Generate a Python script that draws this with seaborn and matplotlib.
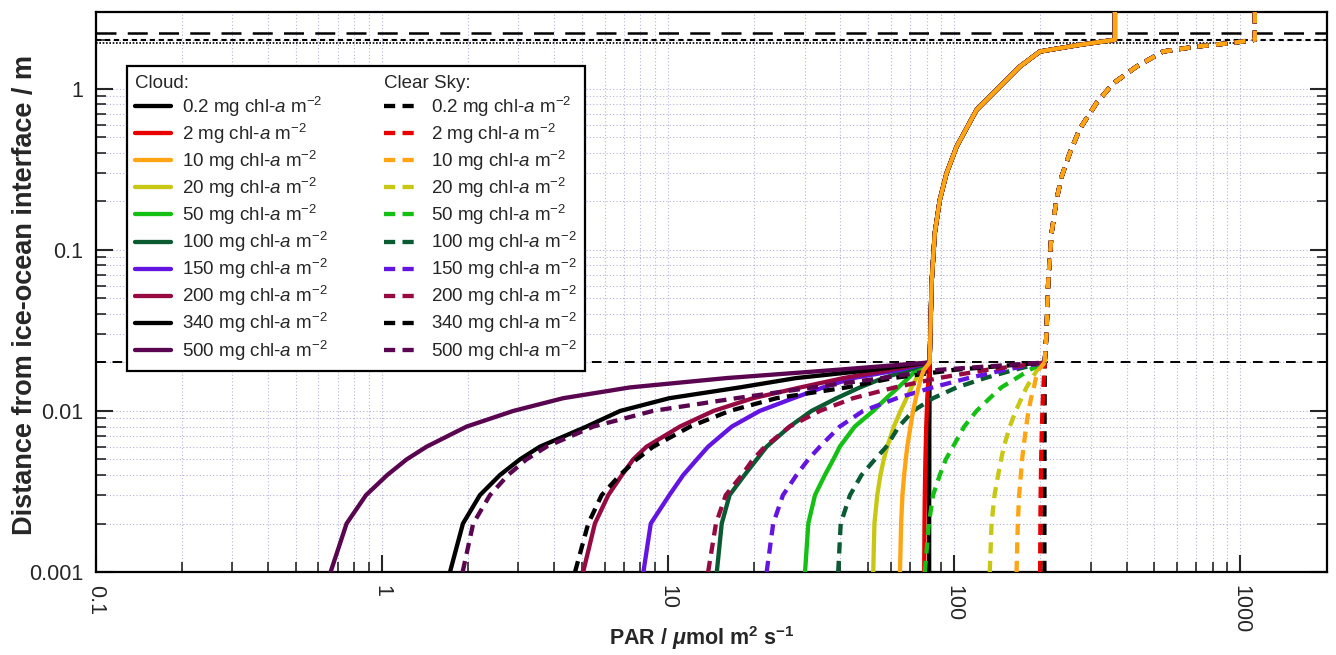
import numpy as np
import pandas as pd
import matplotlib
matplotlib.use('Agg')
import matplotlib.pyplot as plt
import seaborn as sns
from matplotlib.lines import Line2D
from matplotlib.ticker import NullFormatter, LogLocator

sns.set_style('ticks')
plt.rcParams['font.family'] = ['Liberation Sans', 'DejaVu Sans']
plt.rcParams['mathtext.fontset'] = 'custom'
plt.rcParams['mathtext.rm'] = 'Liberation Sans'
plt.rcParams['mathtext.it'] = 'Liberation Sans:italic'
plt.rcParams['mathtext.bf'] = 'Liberation Sans:bold'
plt.rcParams['mathtext.bfit'] = 'Liberation Sans:bold:italic'

# chl-a loadings (mg m-2)
chl = ['0.2', '2', '10', '20', '50', '100', '150', '200', '340', '500']
colors = ['#000000', '#e80000', '#ffa514', '#c8c814', '#14c014', '#0a5a32',
          '#6414e0', '#960a41', '#000000', '#5a0550']

# depth levels in the skeletal layer (m above interface)
depth_skel = [0.001, 0.002, 0.003, 0.004, 0.005, 0.006, 0.008, 0.010,
              0.012, 0.014, 0.016, 0.018, 0.020]

# PAR under cloud in the skeletal layer
cloud_0_2 = [81.7, 81.7, 81.7, 81.8, 81.8, 81.8, 81.8, 81.9, 81.9, 81.9, 82.0, 82.0, 82.0]
cloud_2 = [78.5, 78.7, 78.9, 79.1, 79.3, 79.5, 79.8, 80.2, 80.5, 80.9, 81.3, 81.7, 82.0]
cloud_10 = [64.6, 65.2, 65.9, 66.8, 67.7, 68.5, 70.3, 71.8, 73.4, 75.0, 76.4, 78.3, 82.0]
cloud_20 = [52.1, 52.6, 53.8, 55.2, 56.7, 58.3, 61.5, 64.9, 68.1, 70.9, 73.8, 76.9, 82.0]
cloud_50 = [30.1, 30.9, 32.6, 35.3, 37.8, 39.8, 44.9, 52.1, 57.9, 63.7, 69.1, 73.8, 82.0]
cloud_100 = [14.8, 15.4, 16.4, 18.5, 20.4, 22.1, 26.6, 31.7, 38.8, 46.8, 56.4, 70.0, 82.0]
cloud_150 = [8.2, 8.7, 10.1, 11.3, 12.6, 13.8, 16.7, 20.9, 27.4, 34.8, 44.3, 64.6, 82.0]
cloud_200 = [5.05, 5.55, 6.18, 6.9, 7.55, 8.41, 11.0, 14.4, 19.8, 29.0, 41.0, 60.0, 82.0]
cloud_340 = [1.73, 1.92, 2.20, 2.585, 3.035, 3.565, 5.19, 6.8, 10.1, 17.8, 28.0, 52.0, 82.0]
cloud_500 = [0.662, 0.753, 0.88, 1.044, 1.22, 1.433, 1.978, 2.877, 4.30, 7.36, 16.0, 38.8, 82.0]

# PAR under clear sky in the skeletal layer
clear_0_2 = [206.5, 206.5, 206.6, 206.6, 206.7, 206.7, 206.8, 206.8, 206.9, 206.9, 207, 207, 207]
clear_2 = [199.5, 199.9, 200.3, 200.8, 201.2, 201.6, 202.4, 203.2, 204.0, 204.8, 205.6, 206.3, 207]
clear_10 = [165, 166.7, 168.5, 170.8, 172.6, 174.6, 178.3, 181.7, 185.5, 189.7, 192.8, 197, 207]
clear_20 = [133, 135, 138.2, 142.3, 145.8, 149, 156.3, 164, 171.8, 178.8, 187, 194.9, 207]
clear_50 = [78.9, 81.5, 84.3, 89, 93.4, 99, 108.3, 119.6, 133, 146, 165, 183.5, 207]
clear_100 = [39.3, 40.1, 43.2, 47.4, 52.8, 57.9, 64, 71.8, 84.3, 102, 128, 162, 207]
clear_150 = [22.1, 23.3, 25.2, 28.1, 30.9, 33.9, 39.8, 48, 63, 84, 112, 150, 207]
clear_200 = [13.8, 14.7, 15.9, 18.1, 19.8, 21.8, 26.6, 33.9, 44.3, 62, 88, 130, 207]
clear_340 = [4.73, 5.26, 5.86, 6.79, 7.76, 8.87, 11.95, 16.4, 23.9, 42, 61, 100, 207]
clear_500 = [1.915, 2.085, 2.385, 2.76, 3.2, 3.76, 5.48, 8.85, 17.3, 32, 56, 88, 207]

# shared profile through the ice and snow above the skeletal layer
cloud_upper_z = [0.0305, 0.0621, 0.1276, 0.2046, 0.2995, 0.438, 0.741, 1.033,
                 1.375, 1.705, 1.877, 2.016, 3.0]
cloud_upper_par = [82.5, 83.3, 85.5, 89.0, 94.0, 101.9, 119.7, 144.3,
                   169.5, 199.2, 274.9, 364, 364]
clear_upper_z = [0.0305, 0.0621, 0.127, 0.2046, 0.284, 0.40, 0.564, 0.816,
                 1.08, 1.375, 1.705, 1.83, 1.93, 2.016, 3.0]
clear_upper_par = [210, 212.8, 218.7, 227.6, 237, 253.3, 274.5, 314,
                   358.9, 433.3, 536.6, 702, 942, 1122, 1122]

skel_top = 0.02
ice_top = 2.0
snow_top = 2.22
ssl_line = 1.93

cloud_par = [cloud_0_2, cloud_2, cloud_10, cloud_20, cloud_50,
             cloud_100, cloud_150, cloud_200, cloud_340, cloud_500]
clear_par = [clear_0_2, clear_2, clear_10, clear_20, clear_50,
             clear_100, clear_150, clear_200, clear_340, clear_500]

fig = plt.figure(figsize=(13.36, 6.55), dpi=100)
ax = fig.add_axes([0.0716, 0.1267, 0.9214, 0.855])

lw = 3.1
dash = (0, (2.6, 1.7))

for sky, series, upper_z, upper_par in [('Cloud', cloud_par, cloud_upper_z, cloud_upper_par),
                                        ('Clear Sky', clear_par, clear_upper_z, clear_upper_par)]:
    ls = '-' if sky == 'Cloud' else dash
    for i, vals in enumerate(series):
        z = 5 if chl[i] == '10' else 3
        low = pd.DataFrame({'PAR': vals, 'z': depth_skel})
        sns.lineplot(data=low, x='PAR', y='z', sort=False, estimator=None,
                     color=colors[i], lw=lw, ax=ax, zorder=z, linestyle=ls)
        # ice + snow part drawn separately so dashes line up between curves
        up = pd.DataFrame({'PAR': [vals[-1]] + upper_par,
                           'z': [depth_skel[-1]] + upper_z})
        sns.lineplot(data=up, x='PAR', y='z', sort=False, estimator=None,
                     color=colors[i], lw=lw, ax=ax, zorder=z, linestyle=ls)

ax.set_xscale('log')
ax.set_yscale('log')
ax.set_xlim(0.1, 2000)
ax.set_ylim(0.001, 3.0)

ax.axhline(skel_top, color='black', lw=1.4, ls=(0, (5, 3.5)), zorder=2)
ax.axhline(snow_top, color='black', lw=1.8, ls=(0, (8, 4.5)), zorder=2)
ax.axhline(ice_top, color='black', lw=1.5, ls=(0, (2.5, 1.8)), zorder=2)
ax.plot([0.1, 1000], [ssl_line, ssl_line], color='black', lw=1.2, ls=(0, (1, 1)), zorder=2)

ax.grid(which='both', color='#b4b4dc', linestyle=(0, (1, 2)), linewidth=0.8)

ax.set_xticks([0.1, 1, 10, 100, 1000])
ax.set_xticklabels(['0.1', '1', '10', '100', '1000'], rotation=-90)
ax.set_yticks([0.001, 0.01, 0.1, 1])
ax.set_yticklabels(['0.001', '0.01', '0.1', '1'])
ax.xaxis.set_minor_locator(LogLocator(base=10, subs=np.arange(2, 10)))
ax.yaxis.set_minor_locator(LogLocator(base=10, subs=np.arange(2, 10)))
ax.xaxis.set_minor_formatter(NullFormatter())
ax.yaxis.set_minor_formatter(NullFormatter())
ax.tick_params(which='major', direction='in', length=12, width=1.5, labelsize=15.5,
               left=True, right=True, bottom=True, top=False, pad=9)
ax.tick_params(which='minor', direction='in', length=7, width=1.2,
               left=True, right=True, bottom=True, top=False)
for s in ax.spines.values():
    s.set_linewidth(1.6)
    s.set_color('black')

ax.set_xlabel(r'$\mathbf{PAR\ /\ }\mathbfit{\mu}\mathbf{mol\ m^{2}\ s^{-1}}$', fontsize=15.5)
ax.xaxis.set_label_coords(0.4925, -0.093)
ax.set_ylabel('Distance from ice-ocean interface / m', fontsize=19.5, fontweight='bold')
ax.yaxis.set_label_coords(-0.047, 0.495)

handles = [Line2D([], [], linestyle='none')]
labels = ['Cloud:']
for i, c in enumerate(chl):
    handles.append(Line2D([], [], color=colors[i], lw=lw))
    labels.append(c + r' mg chl-$\mathit{a}$ m$^{-2}$')
handles.append(Line2D([], [], linestyle='none'))
labels.append('Clear Sky:')
for i, c in enumerate(chl):
    handles.append(Line2D([], [], color=colors[i], lw=lw, linestyle=dash))
    labels.append(c + r' mg chl-$\mathit{a}$ m$^{-2}$')

leg = ax.legend(handles, labels, ncol=2, loc='upper left', bbox_to_anchor=(0.0254, 0.9036),
                borderaxespad=0, fontsize=13.5, frameon=True, fancybox=False,
                framealpha=1, edgecolor='black', handlelength=1.9, handletextpad=0.6,
                labelspacing=0.16, columnspacing=3.0, borderpad=0.45)
leg.get_frame().set_linewidth(1.6)
leg.set_zorder(10)
for col in leg._legend_handle_box.get_children():
    row = col.get_children()[0]
    row.get_children()[0].set_width(0)
    row.sep = 0

fig.savefig('out.png', dpi=100)
